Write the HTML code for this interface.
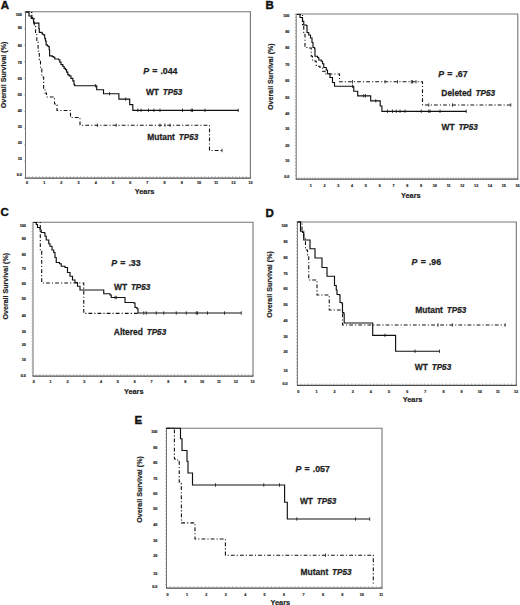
<!DOCTYPE html>
<html><head><meta charset="utf-8"><style>
html,body{margin:0;padding:0;background:#fff;}
svg{display:block;}
text{font-family:"Liberation Sans", sans-serif;fill:#222;}
.an{stroke:#222;stroke-width:0.25px;}
.yl{stroke:#222;stroke-width:0.18px;}
.pl{stroke:#111;stroke-width:0.4px;fill:#111;}
.tl{stroke:#333;stroke-width:0.2px;}
</style></head><body>
<svg width="520" height="605" viewBox="0 0 520 605">
<rect width="520" height="605" fill="#fff"/>
<text x="0.80" y="9.40" font-size="11.5" text-anchor="start" font-weight="bold" class="pl">A</text>
<path d="M25.5,11.8 H250.4 V178.0" fill="none" stroke="#767676" stroke-width="1.1"/>
<path d="M25.5,11.8 V178.0" fill="none" stroke="#6e6e6e" stroke-width="1.0"/>
<path d="M25.0,178.0 H250.95000000000002" fill="none" stroke="#4a4a4a" stroke-width="1.25"/>
<path d="M28.95,176.1 v1.6M32.40,176.1 v1.6M35.85,176.1 v1.6M39.30,176.1 v1.6M42.75,176.1 v1.6M46.20,176.1 v1.6M49.65,176.1 v1.6M53.10,176.1 v1.6M56.55,176.1 v1.6M60.00,176.1 v1.6M63.45,176.1 v1.6M66.90,176.1 v1.6M70.35,176.1 v1.6M73.80,176.1 v1.6M77.25,176.1 v1.6M80.70,176.1 v1.6M84.15,176.1 v1.6M87.60,176.1 v1.6M91.05,176.1 v1.6M94.50,176.1 v1.6M97.95,176.1 v1.6M101.40,176.1 v1.6M104.85,176.1 v1.6M108.30,176.1 v1.6M111.75,176.1 v1.6M115.20,176.1 v1.6M118.65,176.1 v1.6M122.10,176.1 v1.6M125.55,176.1 v1.6M129.00,176.1 v1.6M132.45,176.1 v1.6M135.90,176.1 v1.6M139.35,176.1 v1.6M142.80,176.1 v1.6M146.25,176.1 v1.6M149.70,176.1 v1.6M153.15,176.1 v1.6M156.60,176.1 v1.6M160.05,176.1 v1.6M163.50,176.1 v1.6M166.95,176.1 v1.6M170.40,176.1 v1.6M173.85,176.1 v1.6M177.30,176.1 v1.6M180.75,176.1 v1.6M184.20,176.1 v1.6M187.65,176.1 v1.6M191.10,176.1 v1.6M194.55,176.1 v1.6M198.00,176.1 v1.6M201.45,176.1 v1.6M204.90,176.1 v1.6M208.35,176.1 v1.6M211.80,176.1 v1.6M215.25,176.1 v1.6M218.70,176.1 v1.6M222.15,176.1 v1.6M225.60,176.1 v1.6M229.05,176.1 v1.6M232.50,176.1 v1.6M235.95,176.1 v1.6M239.40,176.1 v1.6M242.85,176.1 v1.6M246.30,176.1 v1.6" stroke="#9a9a9a" stroke-width="0.7"/>
<path d="M25.5,12.00 h-1.4M25.5,28.60 h-1.4M25.5,45.20 h-1.4M25.5,61.80 h-1.4M25.5,78.40 h-1.4M25.5,95.00 h-1.4M25.5,111.60 h-1.4M25.5,128.20 h-1.4M25.5,144.80 h-1.4M25.5,161.40 h-1.4M25.5,178.00 h-1.4" stroke="#9a9a9a" stroke-width="0.7"/>
<text x="21.80" y="15.65" font-size="3.7" text-anchor="end" font-weight="bold" class="tl">100</text>
<text x="21.80" y="29.45" font-size="3.7" text-anchor="end" font-weight="bold" class="tl">90</text>
<text x="21.80" y="47.25" font-size="3.7" text-anchor="end" font-weight="bold" class="tl">80</text>
<text x="21.80" y="63.55" font-size="3.7" text-anchor="end" font-weight="bold" class="tl">70</text>
<text x="21.80" y="79.65" font-size="3.7" text-anchor="end" font-weight="bold" class="tl">60</text>
<text x="21.80" y="95.75" font-size="3.7" text-anchor="end" font-weight="bold" class="tl">50</text>
<text x="21.80" y="111.75" font-size="3.7" text-anchor="end" font-weight="bold" class="tl">40</text>
<text x="21.80" y="127.65" font-size="3.7" text-anchor="end" font-weight="bold" class="tl">30</text>
<text x="21.80" y="143.75" font-size="3.7" text-anchor="end" font-weight="bold" class="tl">20</text>
<text x="21.80" y="159.85" font-size="3.7" text-anchor="end" font-weight="bold" class="tl">10</text>
<text x="21.80" y="175.85" font-size="3.7" text-anchor="end" font-weight="bold" class="tl">0.0</text>
<text x="27.00" y="183.95" font-size="3.7" text-anchor="middle" font-weight="bold" class="tl">0</text>
<text x="44.20" y="183.95" font-size="3.7" text-anchor="middle" font-weight="bold" class="tl">1</text>
<text x="61.40" y="183.95" font-size="3.7" text-anchor="middle" font-weight="bold" class="tl">2</text>
<text x="78.60" y="183.95" font-size="3.7" text-anchor="middle" font-weight="bold" class="tl">3</text>
<text x="95.80" y="183.95" font-size="3.7" text-anchor="middle" font-weight="bold" class="tl">4</text>
<text x="113.00" y="183.95" font-size="3.7" text-anchor="middle" font-weight="bold" class="tl">5</text>
<text x="130.20" y="183.95" font-size="3.7" text-anchor="middle" font-weight="bold" class="tl">6</text>
<text x="147.40" y="183.95" font-size="3.7" text-anchor="middle" font-weight="bold" class="tl">7</text>
<text x="164.60" y="183.95" font-size="3.7" text-anchor="middle" font-weight="bold" class="tl">8</text>
<text x="181.80" y="183.95" font-size="3.7" text-anchor="middle" font-weight="bold" class="tl">9</text>
<text x="199.00" y="183.95" font-size="3.7" text-anchor="middle" font-weight="bold" class="tl">10</text>
<text x="216.20" y="183.95" font-size="3.7" text-anchor="middle" font-weight="bold" class="tl">11</text>
<text x="233.40" y="183.95" font-size="3.7" text-anchor="middle" font-weight="bold" class="tl">12</text>
<text x="250.60" y="183.95" font-size="3.7" text-anchor="middle" font-weight="bold" class="tl">13</text>
<text x="134.80" y="193.50" font-size="7.35" text-anchor="start" font-weight="bold" class="yl">Years</text>
<text transform="translate(3.4,75.0) rotate(-90)" x="0" y="2.4" font-size="7.1" text-anchor="middle" font-weight="bold" class="yl">Overall Survival (%)</text>
<polyline points="25.60,12.00 29.00,12.00 29.00,16.00 31.20,16.00 31.20,18.40 33.30,18.40 33.50,21.00 33.70,23.10 38.40,23.10 38.90,23.10 38.90,28.60 39.30,28.60 39.30,32.40 41.80,32.40 41.80,33.00 42.40,33.00 42.40,34.20 43.60,34.20 43.60,34.90 44.60,34.90 44.60,36.10 44.90,38.60 45.50,38.60 45.50,41.10 46.10,41.10 46.10,44.80 47.40,44.80 47.40,46.00 48.60,46.00 48.60,46.60 49.20,46.60 49.20,49.70 49.60,49.70 49.60,55.90 52.30,55.90 52.30,56.60 53.60,56.60 53.60,57.20 54.80,57.20 54.80,59.00 58.50,59.00 58.50,59.70 59.80,59.70 59.80,62.10 61.00,62.10 61.00,64.60 62.90,64.60 62.90,66.50 64.10,66.50 64.10,68.30 65.40,68.30 65.40,69.60 66.60,69.60 66.60,72.10 67.80,72.10 67.80,74.60 69.10,74.60 69.10,75.80 70.90,75.80 70.90,78.30 72.80,78.30 72.80,80.80 74.00,80.80 74.00,84.50 74.70,84.50 74.70,85.70 96.70,85.70 96.70,89.70 103.50,89.70 103.50,93.70 118.90,93.70 118.90,99.10 129.70,99.10 129.70,104.60 132.80,104.60 132.80,110.30 238.25,110.30" fill="none" stroke="#111" stroke-width="1.15" stroke-linejoin="miter"/>
<polyline points="25.60,12.00 28.60,12.00 28.60,12.50 31.90,12.50 31.90,17.50 34.30,17.50 34.30,24.90 35.60,24.90 35.60,33.60 36.80,33.60 36.80,42.30 38.10,42.30 38.10,51.00 39.30,51.00 39.30,59.70 40.50,59.70 40.50,68.30 41.80,68.30 41.80,77.00 43.60,77.00 43.60,88.20 45.00,88.20 45.00,93.00 46.50,93.00 46.50,97.00 53.50,97.00 54.50,97.00 54.50,104.00 56.50,104.00 56.50,105.00 57.00,105.00 57.00,110.50 70.00,110.50 70.50,110.50 70.50,117.50 79.50,117.50 80.00,117.50 80.00,125.20 209.50,125.20 209.50,150.50 222.00,150.50" fill="none" stroke="#111" stroke-width="1.1" stroke-dasharray="3.8 2.1 1.1 2.1"/>
<path d="M95.40,84.00 v3.4M109.50,92.00 v3.4M125.70,97.40 v3.4M137.80,108.60 v3.4M141.10,108.60 v3.4M148.50,108.60 v3.4M153.90,108.60 v3.4M160.00,108.60 v3.4M182.50,108.60 v3.4M191.25,108.60 v3.4M192.50,108.60 v3.4M205.00,108.60 v3.4M238.25,108.60 v3.4M97.40,123.50 v3.4M116.20,123.50 v3.4M160.00,123.50 v3.4M165.00,123.50 v3.4M170.00,123.50 v3.4M222.00,148.80 v3.4" stroke="#111" stroke-width="0.8"/>
<text x="143.20" y="74.3" font-size="8.8" font-weight="bold" class="an" font-style="italic">P</text>
<text x="152.30" y="74.3" font-size="8.8" font-weight="bold" class="an">=</text>
<text x="160.40" y="74.3" font-size="8.8" font-weight="bold" class="an">.044</text>
<text transform="translate(145.9,94.5) scale(0.96,1)" font-size="8.8" font-weight="bold" class="an">WT</text>
<text transform="translate(162.78,94.5) scale(0.93,1)" font-size="8.8" font-weight="bold" font-style="italic" class="an">TP53</text>
<text transform="translate(147.3,140.3) scale(0.96,1)" font-size="8.8" font-weight="bold" class="an">Mutant</text>
<text transform="translate(178.73,140.3) scale(0.93,1)" font-size="8.8" font-weight="bold" font-style="italic" class="an">TP53</text>
<text x="265.40" y="8.60" font-size="11.5" text-anchor="start" font-weight="bold" class="pl">B</text>
<path d="M296.2,14.0 H517.8 V179.1" fill="none" stroke="#767676" stroke-width="1.1"/>
<path d="M296.2,14.0 V179.1" fill="none" stroke="#6e6e6e" stroke-width="1.0"/>
<path d="M295.7,179.1 H518.3499999999999" fill="none" stroke="#4a4a4a" stroke-width="1.25"/>
<path d="M298.96,177.2 v1.6M301.71,177.2 v1.6M304.47,177.2 v1.6M307.22,177.2 v1.6M309.98,177.2 v1.6M312.74,177.2 v1.6M315.49,177.2 v1.6M318.25,177.2 v1.6M321.00,177.2 v1.6M323.76,177.2 v1.6M326.52,177.2 v1.6M329.27,177.2 v1.6M332.03,177.2 v1.6M334.78,177.2 v1.6M337.54,177.2 v1.6M340.30,177.2 v1.6M343.05,177.2 v1.6M345.81,177.2 v1.6M348.56,177.2 v1.6M351.32,177.2 v1.6M354.08,177.2 v1.6M356.83,177.2 v1.6M359.59,177.2 v1.6M362.34,177.2 v1.6M365.10,177.2 v1.6M367.86,177.2 v1.6M370.61,177.2 v1.6M373.37,177.2 v1.6M376.12,177.2 v1.6M378.88,177.2 v1.6M381.64,177.2 v1.6M384.39,177.2 v1.6M387.15,177.2 v1.6M389.90,177.2 v1.6M392.66,177.2 v1.6M395.42,177.2 v1.6M398.17,177.2 v1.6M400.93,177.2 v1.6M403.68,177.2 v1.6M406.44,177.2 v1.6M409.20,177.2 v1.6M411.95,177.2 v1.6M414.71,177.2 v1.6M417.46,177.2 v1.6M420.22,177.2 v1.6M422.98,177.2 v1.6M425.73,177.2 v1.6M428.49,177.2 v1.6M431.24,177.2 v1.6M434.00,177.2 v1.6M436.76,177.2 v1.6M439.51,177.2 v1.6M442.27,177.2 v1.6M445.02,177.2 v1.6M447.78,177.2 v1.6M450.54,177.2 v1.6M453.29,177.2 v1.6M456.05,177.2 v1.6M458.80,177.2 v1.6M461.56,177.2 v1.6M464.32,177.2 v1.6M467.07,177.2 v1.6M469.83,177.2 v1.6M472.58,177.2 v1.6M475.34,177.2 v1.6M478.10,177.2 v1.6M480.85,177.2 v1.6M483.61,177.2 v1.6M486.36,177.2 v1.6M489.12,177.2 v1.6M491.88,177.2 v1.6M494.63,177.2 v1.6M497.39,177.2 v1.6M500.14,177.2 v1.6M502.90,177.2 v1.6M505.66,177.2 v1.6M508.41,177.2 v1.6M511.17,177.2 v1.6M513.92,177.2 v1.6M516.68,177.2 v1.6" stroke="#9a9a9a" stroke-width="0.7"/>
<path d="M296.2,14.00 h-1.4M296.2,17.29 h-1.4M296.2,20.58 h-1.4M296.2,23.87 h-1.4M296.2,27.16 h-1.4M296.2,30.45 h-1.4M296.2,33.74 h-1.4M296.2,37.03 h-1.4M296.2,40.32 h-1.4M296.2,43.61 h-1.4M296.2,46.90 h-1.4M296.2,50.19 h-1.4M296.2,53.48 h-1.4M296.2,56.77 h-1.4M296.2,60.06 h-1.4M296.2,63.35 h-1.4M296.2,66.64 h-1.4M296.2,69.93 h-1.4M296.2,73.22 h-1.4M296.2,76.51 h-1.4M296.2,79.80 h-1.4M296.2,83.09 h-1.4M296.2,86.38 h-1.4M296.2,89.67 h-1.4M296.2,92.96 h-1.4M296.2,96.25 h-1.4M296.2,99.54 h-1.4M296.2,102.83 h-1.4M296.2,106.12 h-1.4M296.2,109.41 h-1.4M296.2,112.70 h-1.4M296.2,115.99 h-1.4M296.2,119.28 h-1.4M296.2,122.57 h-1.4M296.2,125.86 h-1.4M296.2,129.15 h-1.4M296.2,132.44 h-1.4M296.2,135.73 h-1.4M296.2,139.02 h-1.4M296.2,142.31 h-1.4M296.2,145.60 h-1.4M296.2,148.89 h-1.4M296.2,152.18 h-1.4M296.2,155.47 h-1.4M296.2,158.76 h-1.4M296.2,162.05 h-1.4M296.2,165.34 h-1.4M296.2,168.63 h-1.4M296.2,171.92 h-1.4M296.2,175.21 h-1.4" stroke="#9a9a9a" stroke-width="0.7"/>
<text x="289.40" y="16.85" font-size="3.7" text-anchor="end" font-weight="bold" class="tl">100</text>
<text x="289.40" y="32.75" font-size="3.7" text-anchor="end" font-weight="bold" class="tl">90</text>
<text x="289.40" y="48.75" font-size="3.7" text-anchor="end" font-weight="bold" class="tl">80</text>
<text x="289.40" y="66.45" font-size="3.7" text-anchor="end" font-weight="bold" class="tl">70</text>
<text x="289.40" y="82.45" font-size="3.7" text-anchor="end" font-weight="bold" class="tl">60</text>
<text x="289.40" y="98.65" font-size="3.7" text-anchor="end" font-weight="bold" class="tl">50</text>
<text x="289.40" y="114.55" font-size="3.7" text-anchor="end" font-weight="bold" class="tl">40</text>
<text x="289.40" y="130.45" font-size="3.7" text-anchor="end" font-weight="bold" class="tl">30</text>
<text x="289.40" y="146.55" font-size="3.7" text-anchor="end" font-weight="bold" class="tl">20</text>
<text x="289.40" y="162.05" font-size="3.7" text-anchor="end" font-weight="bold" class="tl">10</text>
<text x="289.40" y="178.15" font-size="3.7" text-anchor="end" font-weight="bold" class="tl">0.0</text>
<text x="310.78" y="186.85" font-size="3.7" text-anchor="middle" font-weight="bold" class="tl">1</text>
<text x="324.56" y="186.85" font-size="3.7" text-anchor="middle" font-weight="bold" class="tl">2</text>
<text x="338.34" y="186.85" font-size="3.7" text-anchor="middle" font-weight="bold" class="tl">3</text>
<text x="352.12" y="186.85" font-size="3.7" text-anchor="middle" font-weight="bold" class="tl">4</text>
<text x="365.90" y="186.85" font-size="3.7" text-anchor="middle" font-weight="bold" class="tl">5</text>
<text x="379.68" y="186.85" font-size="3.7" text-anchor="middle" font-weight="bold" class="tl">6</text>
<text x="393.46" y="186.85" font-size="3.7" text-anchor="middle" font-weight="bold" class="tl">7</text>
<text x="407.24" y="186.85" font-size="3.7" text-anchor="middle" font-weight="bold" class="tl">8</text>
<text x="421.02" y="186.85" font-size="3.7" text-anchor="middle" font-weight="bold" class="tl">9</text>
<text x="434.80" y="186.85" font-size="3.7" text-anchor="middle" font-weight="bold" class="tl">10</text>
<text x="448.58" y="186.85" font-size="3.7" text-anchor="middle" font-weight="bold" class="tl">11</text>
<text x="462.36" y="186.85" font-size="3.7" text-anchor="middle" font-weight="bold" class="tl">12</text>
<text x="476.14" y="186.85" font-size="3.7" text-anchor="middle" font-weight="bold" class="tl">13</text>
<text x="489.92" y="186.85" font-size="3.7" text-anchor="middle" font-weight="bold" class="tl">14</text>
<text x="503.70" y="186.85" font-size="3.7" text-anchor="middle" font-weight="bold" class="tl">15</text>
<text x="517.48" y="186.85" font-size="3.7" text-anchor="middle" font-weight="bold" class="tl">16</text>
<text x="401.00" y="197.50" font-size="7.35" text-anchor="start" font-weight="bold" class="yl">Years</text>
<text transform="translate(270.4,76.6) rotate(-90)" x="0" y="2.4" font-size="7.1" text-anchor="middle" font-weight="bold" class="yl">Overall Survival (%)</text>
<polyline points="297.00,14.50 300.00,14.50 300.00,17.50 302.50,17.50 302.50,21.25 303.75,21.25 303.75,25.00 306.25,25.00 306.25,25.50 307.00,25.50 307.00,32.50 308.75,32.50 308.75,35.00 310.50,35.00 310.50,38.00 312.00,38.00 312.00,42.50 313.00,42.50 313.00,47.50 314.50,47.50 314.50,48.75 315.00,48.75 315.00,56.25 317.50,56.25 317.50,57.50 318.75,57.50 318.75,60.00 321.25,60.00 321.25,61.25 322.50,61.25 322.50,63.75 323.75,63.75 323.75,67.50 326.25,67.50 326.25,70.00 327.50,70.00 327.50,73.75 330.00,73.75 330.00,77.50 332.50,77.50 332.50,82.50 334.50,82.50 334.50,86.25 352.50,86.25 353.75,86.25 353.75,91.25 357.70,91.25 357.70,92.50 357.70,95.80 370.70,95.80 370.70,100.80 378.75,100.80 380.20,100.80 380.20,106.00 381.90,106.00 381.90,111.40 466.25,111.40" fill="none" stroke="#111" stroke-width="1.15" stroke-linejoin="miter"/>
<polyline points="297.00,14.50 302.50,14.50 302.50,25.00 303.75,25.00 303.75,32.50 305.00,32.50 305.00,47.50 308.75,47.50 308.75,48.00 311.25,48.00 311.25,56.25 312.50,56.25 312.50,60.00 315.00,60.00 315.00,61.25 316.25,61.25 316.25,66.25 320.00,66.25 320.00,67.50 322.50,67.50 322.50,71.25 325.00,71.25 325.00,74.00 339.00,74.00 339.50,74.00 339.50,81.80 422.50,81.80 422.50,105.00 510.75,105.00" fill="none" stroke="#111" stroke-width="1.1" stroke-dasharray="3.8 2.1 1.1 2.1"/>
<path d="M352.50,84.55 v3.4M363.70,94.10 v3.4M365.50,94.10 v3.4M375.80,99.10 v3.4M387.50,109.55 v3.4M392.50,109.55 v3.4M396.25,109.55 v3.4M400.00,109.55 v3.4M405.00,109.55 v3.4M421.25,109.55 v3.4M428.75,109.55 v3.4M430.00,109.55 v3.4M440.00,109.55 v3.4M466.25,109.55 v3.4M352.50,80.10 v3.4M385.00,80.10 v3.4M397.50,80.10 v3.4M411.25,80.10 v3.4M412.50,80.10 v3.4M416.00,80.10 v3.4M428.75,103.30 v3.4M452.50,103.30 v3.4M510.75,103.30 v3.4" stroke="#111" stroke-width="0.8"/>
<text x="438.20" y="77.0" font-size="8.8" font-weight="bold" class="an" font-style="italic">P</text>
<text x="447.30" y="77.0" font-size="8.8" font-weight="bold" class="an">=</text>
<text x="455.40" y="77.0" font-size="8.8" font-weight="bold" class="an">.67</text>
<text transform="translate(441.3,95.5) scale(0.96,1)" font-size="8.8" font-weight="bold" class="an">Deleted</text>
<text transform="translate(475.56,95.5) scale(0.93,1)" font-size="8.8" font-weight="bold" font-style="italic" class="an">TP53</text>
<text transform="translate(441.5,129.9) scale(0.96,1)" font-size="8.8" font-weight="bold" class="an">WT</text>
<text transform="translate(458.38,129.9) scale(0.93,1)" font-size="8.8" font-weight="bold" font-style="italic" class="an">TP53</text>
<text x="0.60" y="216.30" font-size="11.5" text-anchor="start" font-weight="bold" class="pl">C</text>
<path d="M33.0,222.3 H253.0 V376.0" fill="none" stroke="#767676" stroke-width="1.1"/>
<path d="M33.0,222.3 V376.0" fill="none" stroke="#6e6e6e" stroke-width="1.0"/>
<path d="M32.5,376.0 H253.55" fill="none" stroke="#4a4a4a" stroke-width="1.25"/>
<path d="M36.37,374.1 v1.6M39.73,374.1 v1.6M43.10,374.1 v1.6M46.46,374.1 v1.6M49.83,374.1 v1.6M53.20,374.1 v1.6M56.56,374.1 v1.6M59.93,374.1 v1.6M63.29,374.1 v1.6M66.66,374.1 v1.6M70.03,374.1 v1.6M73.39,374.1 v1.6M76.76,374.1 v1.6M80.12,374.1 v1.6M83.49,374.1 v1.6M86.86,374.1 v1.6M90.22,374.1 v1.6M93.59,374.1 v1.6M96.95,374.1 v1.6M100.32,374.1 v1.6M103.69,374.1 v1.6M107.05,374.1 v1.6M110.42,374.1 v1.6M113.78,374.1 v1.6M117.15,374.1 v1.6M120.52,374.1 v1.6M123.88,374.1 v1.6M127.25,374.1 v1.6M130.61,374.1 v1.6M133.98,374.1 v1.6M137.35,374.1 v1.6M140.71,374.1 v1.6M144.08,374.1 v1.6M147.44,374.1 v1.6M150.81,374.1 v1.6M154.18,374.1 v1.6M157.54,374.1 v1.6M160.91,374.1 v1.6M164.27,374.1 v1.6M167.64,374.1 v1.6M171.01,374.1 v1.6M174.37,374.1 v1.6M177.74,374.1 v1.6M181.10,374.1 v1.6M184.47,374.1 v1.6M187.84,374.1 v1.6M191.20,374.1 v1.6M194.57,374.1 v1.6M197.93,374.1 v1.6M201.30,374.1 v1.6M204.67,374.1 v1.6M208.03,374.1 v1.6M211.40,374.1 v1.6M214.76,374.1 v1.6M218.13,374.1 v1.6M221.50,374.1 v1.6M224.86,374.1 v1.6M228.23,374.1 v1.6M231.59,374.1 v1.6M234.96,374.1 v1.6M238.33,374.1 v1.6M241.69,374.1 v1.6M245.06,374.1 v1.6M248.42,374.1 v1.6M251.79,374.1 v1.6" stroke="#9a9a9a" stroke-width="0.7"/>
<path d="M33.0,222.30 h-1.4M33.0,225.36 h-1.4M33.0,228.42 h-1.4M33.0,231.48 h-1.4M33.0,234.54 h-1.4M33.0,237.60 h-1.4M33.0,240.66 h-1.4M33.0,243.72 h-1.4M33.0,246.78 h-1.4M33.0,249.84 h-1.4M33.0,252.90 h-1.4M33.0,255.96 h-1.4M33.0,259.02 h-1.4M33.0,262.08 h-1.4M33.0,265.14 h-1.4M33.0,268.20 h-1.4M33.0,271.26 h-1.4M33.0,274.32 h-1.4M33.0,277.38 h-1.4M33.0,280.44 h-1.4M33.0,283.50 h-1.4M33.0,286.56 h-1.4M33.0,289.62 h-1.4M33.0,292.68 h-1.4M33.0,295.74 h-1.4M33.0,298.80 h-1.4M33.0,301.86 h-1.4M33.0,304.92 h-1.4M33.0,307.98 h-1.4M33.0,311.04 h-1.4M33.0,314.10 h-1.4M33.0,317.16 h-1.4M33.0,320.22 h-1.4M33.0,323.28 h-1.4M33.0,326.34 h-1.4M33.0,329.40 h-1.4M33.0,332.46 h-1.4M33.0,335.52 h-1.4M33.0,338.58 h-1.4M33.0,341.64 h-1.4M33.0,344.70 h-1.4M33.0,347.76 h-1.4M33.0,350.82 h-1.4M33.0,353.88 h-1.4M33.0,356.94 h-1.4M33.0,360.00 h-1.4M33.0,363.06 h-1.4M33.0,366.12 h-1.4M33.0,369.18 h-1.4M33.0,372.24 h-1.4" stroke="#9a9a9a" stroke-width="0.7"/>
<text x="25.80" y="227.15" font-size="3.7" text-anchor="end" font-weight="bold" class="tl">100</text>
<text x="25.80" y="240.45" font-size="3.7" text-anchor="end" font-weight="bold" class="tl">90</text>
<text x="25.80" y="256.45" font-size="3.7" text-anchor="end" font-weight="bold" class="tl">80</text>
<text x="25.80" y="269.75" font-size="3.7" text-anchor="end" font-weight="bold" class="tl">70</text>
<text x="25.80" y="285.25" font-size="3.7" text-anchor="end" font-weight="bold" class="tl">60</text>
<text x="25.80" y="300.45" font-size="3.7" text-anchor="end" font-weight="bold" class="tl">50</text>
<text x="25.80" y="316.75" font-size="3.7" text-anchor="end" font-weight="bold" class="tl">40</text>
<text x="25.80" y="332.55" font-size="3.7" text-anchor="end" font-weight="bold" class="tl">30</text>
<text x="25.80" y="345.75" font-size="3.7" text-anchor="end" font-weight="bold" class="tl">20</text>
<text x="25.80" y="361.45" font-size="3.7" text-anchor="end" font-weight="bold" class="tl">10</text>
<text x="25.80" y="376.95" font-size="3.7" text-anchor="end" font-weight="bold" class="tl">0.0</text>
<text x="33.75" y="382.55" font-size="3.7" text-anchor="middle" font-weight="bold" class="tl">0</text>
<text x="50.58" y="382.55" font-size="3.7" text-anchor="middle" font-weight="bold" class="tl">1</text>
<text x="67.41" y="382.55" font-size="3.7" text-anchor="middle" font-weight="bold" class="tl">2</text>
<text x="84.24" y="382.55" font-size="3.7" text-anchor="middle" font-weight="bold" class="tl">3</text>
<text x="101.07" y="382.55" font-size="3.7" text-anchor="middle" font-weight="bold" class="tl">4</text>
<text x="117.90" y="382.55" font-size="3.7" text-anchor="middle" font-weight="bold" class="tl">5</text>
<text x="134.73" y="382.55" font-size="3.7" text-anchor="middle" font-weight="bold" class="tl">6</text>
<text x="151.56" y="382.55" font-size="3.7" text-anchor="middle" font-weight="bold" class="tl">7</text>
<text x="168.39" y="382.55" font-size="3.7" text-anchor="middle" font-weight="bold" class="tl">8</text>
<text x="185.22" y="382.55" font-size="3.7" text-anchor="middle" font-weight="bold" class="tl">9</text>
<text x="202.05" y="382.55" font-size="3.7" text-anchor="middle" font-weight="bold" class="tl">10</text>
<text x="218.88" y="382.55" font-size="3.7" text-anchor="middle" font-weight="bold" class="tl">11</text>
<text x="235.71" y="382.55" font-size="3.7" text-anchor="middle" font-weight="bold" class="tl">12</text>
<text x="252.54" y="382.55" font-size="3.7" text-anchor="middle" font-weight="bold" class="tl">13</text>
<text x="123.90" y="393.50" font-size="7.35" text-anchor="start" font-weight="bold" class="yl">Years</text>
<text transform="translate(5.5,286.2) rotate(-90)" x="0" y="2.4" font-size="7.1" text-anchor="middle" font-weight="bold" class="yl">Overall Survival (%)</text>
<polyline points="33.75,222.50 36.25,222.50 36.25,224.50 37.50,224.50 37.50,227.50 40.00,227.50 40.00,230.00 41.25,230.00 41.25,232.50 44.50,232.50 44.50,233.00 45.00,233.00 45.00,236.25 46.25,236.25 46.25,240.00 48.75,240.00 48.75,243.75 50.00,243.75 50.00,246.25 52.00,246.25 52.00,250.00 53.75,250.00 53.75,252.50 55.00,252.50 55.00,257.50 56.25,257.50 56.25,262.50 59.50,262.50 59.50,263.75 61.25,263.75 61.25,266.25 65.00,266.25 65.00,267.50 67.50,267.50 67.50,272.50 70.00,272.50 70.00,276.25 72.50,276.25 72.50,280.00 75.00,280.00 75.00,282.50 77.50,282.50 77.50,286.25 80.00,286.25 80.00,290.00 102.50,290.00 103.75,290.00 103.75,293.75 110.00,293.75 110.00,295.00 111.25,295.00 111.25,297.50 123.75,297.50 125.00,297.50 125.00,302.50 133.75,302.50 133.75,303.00 135.00,303.00 135.00,307.50 137.00,307.50 137.00,308.75 138.00,308.75 138.00,313.00 241.25,313.00" fill="none" stroke="#111" stroke-width="1.15" stroke-linejoin="miter"/>
<polyline points="33.75,222.50 40.30,222.50 40.30,251.00 41.70,251.00 41.70,251.50 41.70,283.00 83.75,283.00 83.75,313.40 138.00,313.40" fill="none" stroke="#111" stroke-width="1.1" stroke-dasharray="3.8 2.1 1.1 2.1"/>
<path d="M115.00,295.80 v3.4M116.25,295.80 v3.4M143.75,311.30 v3.4M146.25,311.30 v3.4M156.25,311.30 v3.4M163.75,311.30 v3.4M176.25,311.30 v3.4M186.25,311.30 v3.4M196.25,311.30 v3.4M197.50,311.30 v3.4M207.50,311.30 v3.4M224.50,311.30 v3.4M241.25,311.30 v3.4" stroke="#111" stroke-width="0.8"/>
<text x="111.20" y="266.3" font-size="8.8" font-weight="bold" class="an" font-style="italic">P</text>
<text x="120.30" y="266.3" font-size="8.8" font-weight="bold" class="an">=</text>
<text x="128.40" y="266.3" font-size="8.8" font-weight="bold" class="an">.33</text>
<text transform="translate(114.0,289.9) scale(0.96,1)" font-size="8.8" font-weight="bold" class="an">WT</text>
<text transform="translate(130.88,289.9) scale(0.93,1)" font-size="8.8" font-weight="bold" font-style="italic" class="an">TP53</text>
<text transform="translate(113.8,334.8) scale(0.96,1)" font-size="8.8" font-weight="bold" class="an">Altered</text>
<text transform="translate(146.65,334.8) scale(0.93,1)" font-size="8.8" font-weight="bold" font-style="italic" class="an">TP53</text>
<text x="265.60" y="216.60" font-size="11.5" text-anchor="start" font-weight="bold" class="pl">D</text>
<path d="M297.4,222.0 H516.3 V385.4" fill="none" stroke="#767676" stroke-width="1.1"/>
<path d="M297.4,222.0 V385.4" fill="none" stroke="#6e6e6e" stroke-width="1.0"/>
<path d="M296.9,385.4 H516.8499999999999" fill="none" stroke="#4a4a4a" stroke-width="1.25"/>
<path d="M301.03,383.5 v1.6M304.66,383.5 v1.6M308.29,383.5 v1.6M311.92,383.5 v1.6M315.55,383.5 v1.6M319.18,383.5 v1.6M322.81,383.5 v1.6M326.44,383.5 v1.6M330.07,383.5 v1.6M333.70,383.5 v1.6M337.33,383.5 v1.6M340.96,383.5 v1.6M344.59,383.5 v1.6M348.22,383.5 v1.6M351.85,383.5 v1.6M355.48,383.5 v1.6M359.11,383.5 v1.6M362.74,383.5 v1.6M366.37,383.5 v1.6M370.00,383.5 v1.6M373.63,383.5 v1.6M377.26,383.5 v1.6M380.89,383.5 v1.6M384.52,383.5 v1.6M388.15,383.5 v1.6M391.78,383.5 v1.6M395.41,383.5 v1.6M399.04,383.5 v1.6M402.67,383.5 v1.6M406.30,383.5 v1.6M409.93,383.5 v1.6M413.56,383.5 v1.6M417.19,383.5 v1.6M420.82,383.5 v1.6M424.45,383.5 v1.6M428.08,383.5 v1.6M431.71,383.5 v1.6M435.34,383.5 v1.6M438.97,383.5 v1.6M442.60,383.5 v1.6M446.23,383.5 v1.6M449.86,383.5 v1.6M453.49,383.5 v1.6M457.12,383.5 v1.6M460.75,383.5 v1.6M464.38,383.5 v1.6M468.01,383.5 v1.6M471.64,383.5 v1.6M475.27,383.5 v1.6M478.90,383.5 v1.6M482.53,383.5 v1.6M486.16,383.5 v1.6M489.79,383.5 v1.6M493.42,383.5 v1.6M497.05,383.5 v1.6M500.68,383.5 v1.6M504.31,383.5 v1.6M507.94,383.5 v1.6M511.57,383.5 v1.6M515.20,383.5 v1.6" stroke="#9a9a9a" stroke-width="0.7"/>
<path d="M297.4,222.00 h-1.4M297.4,225.26 h-1.4M297.4,228.52 h-1.4M297.4,231.78 h-1.4M297.4,235.04 h-1.4M297.4,238.30 h-1.4M297.4,241.56 h-1.4M297.4,244.82 h-1.4M297.4,248.08 h-1.4M297.4,251.34 h-1.4M297.4,254.60 h-1.4M297.4,257.86 h-1.4M297.4,261.12 h-1.4M297.4,264.38 h-1.4M297.4,267.64 h-1.4M297.4,270.90 h-1.4M297.4,274.16 h-1.4M297.4,277.42 h-1.4M297.4,280.68 h-1.4M297.4,283.94 h-1.4M297.4,287.20 h-1.4M297.4,290.46 h-1.4M297.4,293.72 h-1.4M297.4,296.98 h-1.4M297.4,300.24 h-1.4M297.4,303.50 h-1.4M297.4,306.76 h-1.4M297.4,310.02 h-1.4M297.4,313.28 h-1.4M297.4,316.54 h-1.4M297.4,319.80 h-1.4M297.4,323.06 h-1.4M297.4,326.32 h-1.4M297.4,329.58 h-1.4M297.4,332.84 h-1.4M297.4,336.10 h-1.4M297.4,339.36 h-1.4M297.4,342.62 h-1.4M297.4,345.88 h-1.4M297.4,349.14 h-1.4M297.4,352.40 h-1.4M297.4,355.66 h-1.4M297.4,358.92 h-1.4M297.4,362.18 h-1.4M297.4,365.44 h-1.4M297.4,368.70 h-1.4M297.4,371.96 h-1.4M297.4,375.22 h-1.4M297.4,378.48 h-1.4M297.4,381.74 h-1.4" stroke="#9a9a9a" stroke-width="0.7"/>
<text x="287.60" y="227.45" font-size="3.7" text-anchor="end" font-weight="bold" class="tl">100</text>
<text x="287.60" y="242.95" font-size="3.7" text-anchor="end" font-weight="bold" class="tl">90</text>
<text x="287.60" y="258.55" font-size="3.7" text-anchor="end" font-weight="bold" class="tl">80</text>
<text x="287.60" y="274.55" font-size="3.7" text-anchor="end" font-weight="bold" class="tl">70</text>
<text x="287.60" y="290.25" font-size="3.7" text-anchor="end" font-weight="bold" class="tl">60</text>
<text x="287.60" y="305.95" font-size="3.7" text-anchor="end" font-weight="bold" class="tl">50</text>
<text x="287.60" y="321.85" font-size="3.7" text-anchor="end" font-weight="bold" class="tl">40</text>
<text x="287.60" y="337.75" font-size="3.7" text-anchor="end" font-weight="bold" class="tl">30</text>
<text x="287.60" y="353.35" font-size="3.7" text-anchor="end" font-weight="bold" class="tl">20</text>
<text x="287.60" y="371.75" font-size="3.7" text-anchor="end" font-weight="bold" class="tl">10</text>
<text x="287.60" y="385.05" font-size="3.7" text-anchor="end" font-weight="bold" class="tl">0.0</text>
<text x="298.30" y="392.65" font-size="3.7" text-anchor="middle" font-weight="bold" class="tl">0</text>
<text x="316.45" y="392.65" font-size="3.7" text-anchor="middle" font-weight="bold" class="tl">1</text>
<text x="334.60" y="392.65" font-size="3.7" text-anchor="middle" font-weight="bold" class="tl">2</text>
<text x="352.75" y="392.65" font-size="3.7" text-anchor="middle" font-weight="bold" class="tl">3</text>
<text x="370.90" y="392.65" font-size="3.7" text-anchor="middle" font-weight="bold" class="tl">4</text>
<text x="389.05" y="392.65" font-size="3.7" text-anchor="middle" font-weight="bold" class="tl">5</text>
<text x="407.20" y="392.65" font-size="3.7" text-anchor="middle" font-weight="bold" class="tl">6</text>
<text x="425.35" y="392.65" font-size="3.7" text-anchor="middle" font-weight="bold" class="tl">7</text>
<text x="443.50" y="392.65" font-size="3.7" text-anchor="middle" font-weight="bold" class="tl">8</text>
<text x="461.65" y="392.65" font-size="3.7" text-anchor="middle" font-weight="bold" class="tl">9</text>
<text x="479.80" y="392.65" font-size="3.7" text-anchor="middle" font-weight="bold" class="tl">10</text>
<text x="497.95" y="392.65" font-size="3.7" text-anchor="middle" font-weight="bold" class="tl">11</text>
<text x="516.10" y="392.65" font-size="3.7" text-anchor="middle" font-weight="bold" class="tl">12</text>
<text x="402.80" y="402.20" font-size="7.35" text-anchor="start" font-weight="bold" class="yl">Years</text>
<text transform="translate(269.6,284.5) rotate(-90)" x="0" y="2.4" font-size="7.1" text-anchor="middle" font-weight="bold" class="yl">Overall Survival (%)</text>
<polyline points="297.50,222.00 300.00,222.00 300.50,222.00 300.50,231.25 302.50,231.25 302.50,232.50 303.75,232.50 303.75,240.00 310.00,240.00 310.00,248.75 315.00,248.75 315.00,258.00 322.00,258.00 322.00,267.50 327.00,267.50 327.00,276.25 334.50,276.25 334.50,285.50 336.25,285.50 336.25,290.00 337.00,290.00 337.00,294.50 339.50,294.50 339.50,295.00 340.00,295.00 340.00,302.50 342.00,302.50 342.00,303.75 342.50,303.75 342.50,312.50 343.75,312.50 343.75,313.75 344.20,313.75 344.20,323.00 372.70,323.00 372.70,335.30 395.60,335.30 395.60,351.20 439.50,351.20" fill="none" stroke="#111" stroke-width="1.15" stroke-linejoin="miter"/>
<polyline points="297.50,222.00 302.00,222.00 302.00,230.00 303.75,230.00 303.75,238.75 305.50,238.75 305.50,250.00 307.50,250.00 307.50,255.00 308.75,255.00 308.75,280.00 316.25,280.00 316.25,280.50 317.00,280.50 317.00,295.00 328.75,295.00 328.75,295.50 329.25,295.50 329.25,310.00 340.00,310.00 342.50,310.00 342.50,325.00 505.20,325.00" fill="none" stroke="#111" stroke-width="1.1" stroke-dasharray="3.8 2.1 1.1 2.1"/>
<path d="M385.00,333.60 v3.4M415.00,349.50 v3.4M439.50,349.50 v3.4M438.00,323.30 v3.4M452.30,323.30 v3.4M505.20,323.30 v3.4" stroke="#111" stroke-width="0.8"/>
<text x="411.60" y="265.1" font-size="8.8" font-weight="bold" class="an" font-style="italic">P</text>
<text x="420.70" y="265.1" font-size="8.8" font-weight="bold" class="an">=</text>
<text x="428.80" y="265.1" font-size="8.8" font-weight="bold" class="an">.96</text>
<text transform="translate(415.3,312.8) scale(0.96,1)" font-size="8.8" font-weight="bold" class="an">Mutant</text>
<text transform="translate(446.73,312.8) scale(0.93,1)" font-size="8.8" font-weight="bold" font-style="italic" class="an">TP53</text>
<text transform="translate(414.8,370.3) scale(0.96,1)" font-size="8.8" font-weight="bold" class="an">WT</text>
<text transform="translate(431.68,370.3) scale(0.93,1)" font-size="8.8" font-weight="bold" font-style="italic" class="an">TP53</text>
<text x="134.60" y="423.50" font-size="11.5" text-anchor="start" font-weight="bold" class="pl">E</text>
<path d="M166.5,428.2 H382.0 V588.0" fill="none" stroke="#767676" stroke-width="1.1"/>
<path d="M166.5,428.2 V588.0" fill="none" stroke="#6e6e6e" stroke-width="1.0"/>
<path d="M166.0,588.0 H382.55" fill="none" stroke="#4a4a4a" stroke-width="1.25"/>
<path d="M170.39,586.1 v1.6M174.27,586.1 v1.6M178.16,586.1 v1.6M182.04,586.1 v1.6M185.93,586.1 v1.6M189.82,586.1 v1.6M193.70,586.1 v1.6M197.59,586.1 v1.6M201.47,586.1 v1.6M205.36,586.1 v1.6M209.25,586.1 v1.6M213.13,586.1 v1.6M217.02,586.1 v1.6M220.90,586.1 v1.6M224.79,586.1 v1.6M228.68,586.1 v1.6M232.56,586.1 v1.6M236.45,586.1 v1.6M240.33,586.1 v1.6M244.22,586.1 v1.6M248.11,586.1 v1.6M251.99,586.1 v1.6M255.88,586.1 v1.6M259.76,586.1 v1.6M263.65,586.1 v1.6M267.54,586.1 v1.6M271.42,586.1 v1.6M275.31,586.1 v1.6M279.19,586.1 v1.6M283.08,586.1 v1.6M286.97,586.1 v1.6M290.85,586.1 v1.6M294.74,586.1 v1.6M298.62,586.1 v1.6M302.51,586.1 v1.6M306.40,586.1 v1.6M310.28,586.1 v1.6M314.17,586.1 v1.6M318.05,586.1 v1.6M321.94,586.1 v1.6M325.83,586.1 v1.6M329.71,586.1 v1.6M333.60,586.1 v1.6M337.48,586.1 v1.6M341.37,586.1 v1.6M345.26,586.1 v1.6M349.14,586.1 v1.6M353.03,586.1 v1.6M356.91,586.1 v1.6M360.80,586.1 v1.6M364.69,586.1 v1.6M368.57,586.1 v1.6M372.46,586.1 v1.6M376.34,586.1 v1.6M380.23,586.1 v1.6" stroke="#9a9a9a" stroke-width="0.7"/>
<path d="M166.5,428.20 h-1.4M166.5,431.39 h-1.4M166.5,434.58 h-1.4M166.5,437.77 h-1.4M166.5,440.96 h-1.4M166.5,444.15 h-1.4M166.5,447.34 h-1.4M166.5,450.53 h-1.4M166.5,453.72 h-1.4M166.5,456.91 h-1.4M166.5,460.10 h-1.4M166.5,463.29 h-1.4M166.5,466.48 h-1.4M166.5,469.67 h-1.4M166.5,472.86 h-1.4M166.5,476.05 h-1.4M166.5,479.24 h-1.4M166.5,482.43 h-1.4M166.5,485.62 h-1.4M166.5,488.81 h-1.4M166.5,492.00 h-1.4M166.5,495.19 h-1.4M166.5,498.38 h-1.4M166.5,501.57 h-1.4M166.5,504.76 h-1.4M166.5,507.95 h-1.4M166.5,511.14 h-1.4M166.5,514.33 h-1.4M166.5,517.52 h-1.4M166.5,520.71 h-1.4M166.5,523.90 h-1.4M166.5,527.09 h-1.4M166.5,530.28 h-1.4M166.5,533.47 h-1.4M166.5,536.66 h-1.4M166.5,539.85 h-1.4M166.5,543.04 h-1.4M166.5,546.23 h-1.4M166.5,549.42 h-1.4M166.5,552.61 h-1.4M166.5,555.80 h-1.4M166.5,558.99 h-1.4M166.5,562.18 h-1.4M166.5,565.37 h-1.4M166.5,568.56 h-1.4M166.5,571.75 h-1.4M166.5,574.94 h-1.4M166.5,578.13 h-1.4M166.5,581.32 h-1.4M166.5,584.51 h-1.4" stroke="#9a9a9a" stroke-width="0.7"/>
<text x="157.40" y="432.95" font-size="3.7" text-anchor="end" font-weight="bold" class="tl">100</text>
<text x="157.40" y="448.75" font-size="3.7" text-anchor="end" font-weight="bold" class="tl">90</text>
<text x="157.40" y="464.15" font-size="3.7" text-anchor="end" font-weight="bold" class="tl">80</text>
<text x="157.40" y="480.35" font-size="3.7" text-anchor="end" font-weight="bold" class="tl">70</text>
<text x="157.40" y="495.35" font-size="3.7" text-anchor="end" font-weight="bold" class="tl">60</text>
<text x="157.40" y="510.45" font-size="3.7" text-anchor="end" font-weight="bold" class="tl">50</text>
<text x="157.40" y="526.15" font-size="3.7" text-anchor="end" font-weight="bold" class="tl">40</text>
<text x="157.40" y="541.65" font-size="3.7" text-anchor="end" font-weight="bold" class="tl">30</text>
<text x="157.40" y="557.05" font-size="3.7" text-anchor="end" font-weight="bold" class="tl">20</text>
<text x="157.40" y="574.85" font-size="3.7" text-anchor="end" font-weight="bold" class="tl">10</text>
<text x="157.40" y="587.85" font-size="3.7" text-anchor="end" font-weight="bold" class="tl">0.0</text>
<text x="167.50" y="595.75" font-size="3.7" text-anchor="middle" font-weight="bold" class="tl">0</text>
<text x="186.93" y="595.75" font-size="3.7" text-anchor="middle" font-weight="bold" class="tl">1</text>
<text x="206.36" y="595.75" font-size="3.7" text-anchor="middle" font-weight="bold" class="tl">2</text>
<text x="225.79" y="595.75" font-size="3.7" text-anchor="middle" font-weight="bold" class="tl">3</text>
<text x="245.22" y="595.75" font-size="3.7" text-anchor="middle" font-weight="bold" class="tl">4</text>
<text x="264.65" y="595.75" font-size="3.7" text-anchor="middle" font-weight="bold" class="tl">5</text>
<text x="284.08" y="595.75" font-size="3.7" text-anchor="middle" font-weight="bold" class="tl">6</text>
<text x="303.51" y="595.75" font-size="3.7" text-anchor="middle" font-weight="bold" class="tl">7</text>
<text x="322.94" y="595.75" font-size="3.7" text-anchor="middle" font-weight="bold" class="tl">8</text>
<text x="342.37" y="595.75" font-size="3.7" text-anchor="middle" font-weight="bold" class="tl">9</text>
<text x="361.80" y="595.75" font-size="3.7" text-anchor="middle" font-weight="bold" class="tl">10</text>
<text x="381.23" y="595.75" font-size="3.7" text-anchor="middle" font-weight="bold" class="tl">11</text>
<text x="270.50" y="604.60" font-size="7.35" text-anchor="start" font-weight="bold" class="yl">Years</text>
<text transform="translate(139.2,489.5) rotate(-90)" x="0" y="2.4" font-size="7.1" text-anchor="middle" font-weight="bold" class="yl">Overall Survival (%)</text>
<polyline points="166.50,428.25 180.00,428.25 180.50,428.25 180.50,438.75 182.00,438.75 182.00,440.00 182.00,450.50 186.25,450.50 187.00,450.50 187.00,461.25 188.00,461.25 188.00,463.00 188.00,473.00 192.00,473.00 192.50,473.00 192.50,485.00 284.60,485.00 284.60,502.20 287.30,502.20 287.30,519.00 369.70,519.00" fill="none" stroke="#111" stroke-width="1.15" stroke-linejoin="miter"/>
<polyline points="166.50,428.25 174.40,428.25 174.40,459.00 176.30,459.00 176.30,460.00 179.20,460.00 179.20,462.30 179.20,482.00 181.30,482.00 181.30,495.00 181.50,522.90 195.00,522.90 195.00,539.00 224.60,539.00 225.40,539.00 225.40,555.20 373.30,555.20 373.30,584.70" fill="none" stroke="#111" stroke-width="1.1" stroke-dasharray="3.8 2.1 1.1 2.1"/>
<path d="M215.50,483.30 v3.4M263.75,483.30 v3.4M279.50,483.30 v3.4M296.80,517.30 v3.4M355.50,517.30 v3.4M369.70,517.30 v3.4M325.50,553.50 v3.4" stroke="#111" stroke-width="0.8"/>
<text x="295.50" y="471.5" font-size="8.8" font-weight="bold" class="an" font-style="italic">P</text>
<text x="304.60" y="471.5" font-size="8.8" font-weight="bold" class="an">=</text>
<text x="312.70" y="471.5" font-size="8.8" font-weight="bold" class="an">.057</text>
<text transform="translate(299.9,504.2) scale(0.96,1)" font-size="8.8" font-weight="bold" class="an">WT</text>
<text transform="translate(316.78,504.2) scale(0.93,1)" font-size="8.8" font-weight="bold" font-style="italic" class="an">TP53</text>
<text transform="translate(300.6,574.6) scale(0.96,1)" font-size="8.8" font-weight="bold" class="an">Mutant</text>
<text transform="translate(332.03,574.6) scale(0.93,1)" font-size="8.8" font-weight="bold" font-style="italic" class="an">TP53</text>
</svg>
</body></html>
